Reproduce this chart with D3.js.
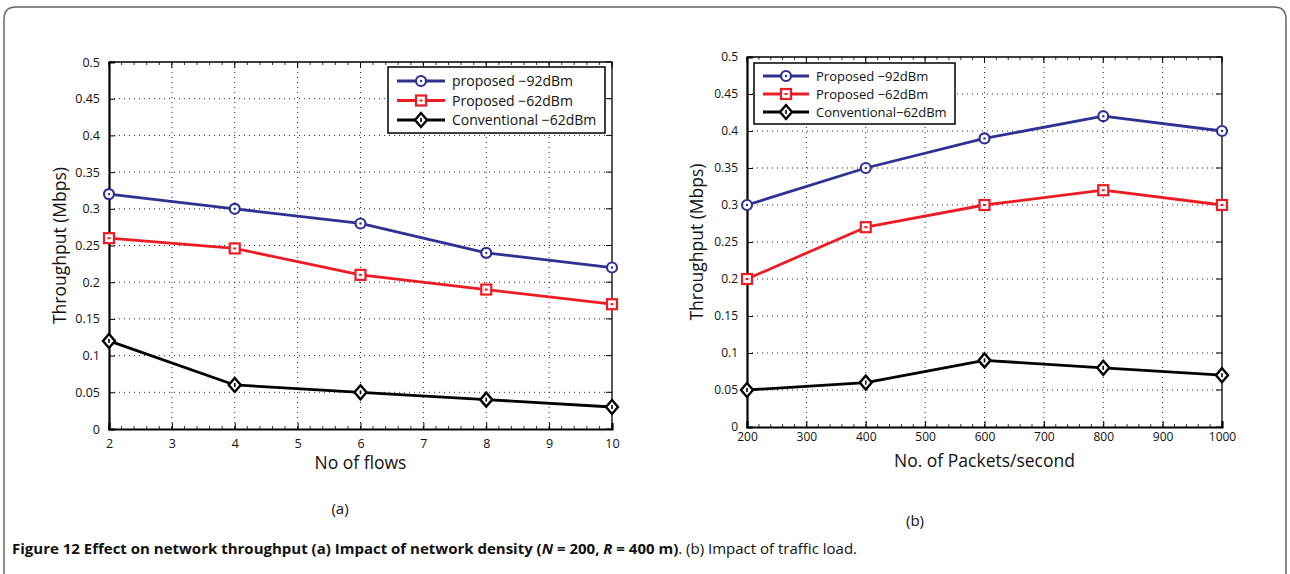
<!DOCTYPE html>
<html lang="en">
<head>
<meta charset="UTF-8">
<title>Figure 12 Throughput</title>
<script src="https://d3js.org/d3.v7.min.js"></script>
<style>
  body { margin: 0; background: #fff; font-family: "Open Sans", sans-serif; }
  svg text { fill: #111; }
</style>
</head>
<body>
<div id="chart"></div>
<script>
// data
const flows = [2, 4, 6, 8, 10];
const flowsBlue = [0.32, 0.30, 0.28, 0.24, 0.22];
const flowsRed = [0.26, 0.246, 0.21, 0.19, 0.17];
const flowsBlack = [0.12, 0.06, 0.05, 0.04, 0.03];

const packets = [200, 400, 600, 800, 1000];
const packetsBlue = [0.30, 0.35, 0.39, 0.42, 0.40];
const packetsRed = [0.20, 0.27, 0.30, 0.32, 0.30];
const packetsBlack = [0.05, 0.06, 0.09, 0.08, 0.07];

const yTicks = [0, 0.05, 0.1, 0.15, 0.2, 0.25, 0.3, 0.35, 0.4, 0.45, 0.5];
const flowTicks = [2, 3, 4, 5, 6, 7, 8, 9, 10];
const packetTicks = [200, 300, 400, 500, 600, 700, 800, 900, 1000];

const legendA = ["proposed \u221292dBm", "Proposed \u221262dBm", "Conventional \u221262dBm"];
const legendB = ["Proposed \u221292dBm", "Proposed \u221262dBm", "Conventional\u221262dBm"];

const colors = ["#2e3192", "#ed1c24", "#000000"];
const shapes = ["circle", "square", "diamond"];

const W = 1290, H = 574;
const svg = d3.select("#chart").append("svg").attr("width", W).attr("height", H);

// outer frame
svg.append("path")
  .attr("d", "M4,590 L4,19 Q4,7 16,7 L1274,7 Q1286,7 1286,19 L1286,590")
  .attr("fill", "none").attr("stroke", "#666").attr("stroke-width", 1.5);

function drawMarker(g, shape, color, x, y) {
  if (shape === "circle") {
    g.append("circle").attr("cx", x).attr("cy", y).attr("r", 5)
      .attr("fill", "#fff").attr("stroke", color).attr("stroke-width", 2.2);
    g.append("circle").attr("cx", x).attr("cy", y).attr("r", 1.2).attr("fill", color);
  } else if (shape === "square") {
    g.append("rect").attr("x", x - 5).attr("y", y - 5).attr("width", 10).attr("height", 10)
      .attr("fill", "#fff").attr("stroke", color).attr("stroke-width", 2.2);
    g.append("rect").attr("x", x - 1.5).attr("y", y - 1).attr("width", 3).attr("height", 2).attr("fill", color);
  } else {
    g.append("path").attr("d", `M${x},${y - 7} L${x + 6},${y} L${x},${y + 7} L${x - 6},${y} Z`)
      .attr("fill", "#fff").attr("stroke", color).attr("stroke-width", 2.4);
    g.append("rect").attr("x", x - 0.8).attr("y", y - 2).attr("width", 1.6).attr("height", 4).attr("fill", color);
  }
}

function panel(opt) {
  const x = d3.scaleLinear().domain(opt.xDomain).range([opt.left, opt.right]);
  const y = d3.scaleLinear().domain([0, 0.5]).range([opt.bottom, opt.top]);
  const g = svg.append("g");

  // dotted grid
  g.selectAll(".gx").data(opt.xTicks.slice(1, -1)).join("line")
    .attr("x1", d => x(d)).attr("x2", d => x(d)).attr("y1", opt.top).attr("y2", opt.bottom)
    .attr("stroke", "#222").attr("stroke-width", 1).attr("stroke-dasharray", "1,4");
  g.selectAll(".gy").data(yTicks.slice(1, -1)).join("line")
    .attr("x1", opt.left).attr("x2", opt.right).attr("y1", d => y(d)).attr("y2", d => y(d))
    .attr("stroke", "#222").attr("stroke-width", 1).attr("stroke-dasharray", "1,4");

  // minor ticks along bottom and top
  const minor = d3.range(opt.xDomain[0], opt.xDomain[1] + opt.minorStep / 2, opt.minorStep);
  g.selectAll(".mb").data(minor).join("line")
    .attr("x1", d => x(d)).attr("x2", d => x(d)).attr("y1", opt.bottom).attr("y2", opt.bottom - 3)
    .attr("stroke", "#000").attr("stroke-width", 0.8);
  g.selectAll(".mt").data(minor).join("line")
    .attr("x1", d => x(d)).attr("x2", d => x(d)).attr("y1", opt.top).attr("y2", opt.top + 3)
    .attr("stroke", "#000").attr("stroke-width", 0.8);
  // major ticks on top and right
  g.selectAll(".tt").data(opt.xTicks).join("line")
    .attr("x1", d => x(d)).attr("x2", d => x(d)).attr("y1", opt.top).attr("y2", opt.top + 6)
    .attr("stroke", "#000").attr("stroke-width", 1);
  g.selectAll(".tr").data(yTicks).join("line")
    .attr("x1", opt.right).attr("x2", opt.right - 6).attr("y1", d => y(d)).attr("y2", d => y(d))
    .attr("stroke", "#000").attr("stroke-width", 1);

  // thin box top/right
  g.append("path").attr("d", `M${opt.left},${opt.top} L${opt.right},${opt.top} L${opt.right},${opt.bottom}`)
    .attr("fill", "none").attr("stroke", "#000").attr("stroke-width", 1.3);

  // axes
  const xa = g.append("g").attr("transform", `translate(0,${opt.bottom})`)
    .call(d3.axisBottom(x).tickValues(opt.xTicks).tickSize(-6).tickPadding(opt.xPad).tickFormat(d3.format("d")));
  const ya = g.append("g").attr("transform", `translate(${opt.left},0)`)
    .call(d3.axisLeft(y).tickValues(yTicks).tickSize(-6).tickPadding(9).tickFormat(d => d === 0 ? "0" : String(d)));
  [xa, ya].forEach(a => {
    a.select(".domain").attr("stroke", "#000").attr("stroke-width", 2.2);
    a.selectAll(".tick line").attr("stroke", "#000");
    a.selectAll("text").attr("font-family", "Open Sans, sans-serif").attr("font-size", opt.tickFs).attr("fill", "#111");
  });

  // series
  opt.series.forEach((vals, i) => {
    const pts = opt.xs.map((v, j) => [x(v), y(vals[j])]);
    g.append("path").attr("d", d3.line()(pts)).attr("fill", "none")
      .attr("stroke", colors[i]).attr("stroke-width", 2.8).attr("stroke-linejoin", "round");
    pts.forEach(p => drawMarker(g, shapes[i], colors[i], p[0], p[1]));
  });

  // legend
  const L = opt.legend;
  g.append("rect").attr("x", L.x).attr("y", L.y).attr("width", L.w).attr("height", L.h)
    .attr("fill", "#fff").attr("stroke", "#000").attr("stroke-width", 1.5);
  opt.labels.forEach((t, i) => {
    const ly = L.y + L.first + i * L.step;
    g.append("line").attr("x1", L.x + 9).attr("x2", L.x + 9 + L.line).attr("y1", ly).attr("y2", ly)
      .attr("stroke", colors[i]).attr("stroke-width", 2.8);
    drawMarker(g, shapes[i], colors[i], L.x + 9 + L.line / 2, ly);
    g.append("text").attr("x", L.x + 16 + L.line).attr("y", ly).attr("dy", "0.36em")
      .attr("font-size", L.fs).text(t);
  });

  // axis titles
  g.append("text").attr("x", (opt.left + opt.right) / 2).attr("y", opt.xTitleY)
    .attr("text-anchor", "middle").attr("font-size", 17.5).text(opt.xTitle);
  g.append("text").attr("transform", `translate(${opt.yTitleX},${(opt.top + opt.bottom) / 2}) rotate(-90)`)
    .attr("text-anchor", "middle").attr("font-size", 17.5).text("Throughput (Mbps)");
  g.append("text").attr("x", opt.subX).attr("y", opt.subY).attr("text-anchor", "middle")
    .attr("font-size", 15).text(opt.sub);
}

panel({
  xDomain: [2, 10], xTicks: flowTicks, minorStep: 0.2, xs: flows,
  series: [flowsBlue, flowsRed, flowsBlack],
  left: 109, right: 612, top: 62, bottom: 429, xPad: 10, tickFs: 12.5,
  legend: { x: 388, y: 67, w: 217, h: 66, first: 14, step: 19.5, line: 48, fs: 14 },
  labels: legendA,
  xTitle: "No of flows", xTitleY: 469, yTitleX: 66,
  sub: "(a)", subX: 340, subY: 514
});

panel({
  xDomain: [200, 1000], xTicks: packetTicks, minorStep: 20, xs: packets,
  series: [packetsBlue, packetsRed, packetsBlack],
  left: 747, right: 1222, top: 57, bottom: 427, xPad: 5, tickFs: 12,
  legend: { x: 754, y: 63, w: 201, h: 61, first: 13, step: 18, line: 46, fs: 13 },
  labels: legendB,
  xTitle: "No. of Packets/second", xTitleY: 467, yTitleX: 703,
  sub: "(b)", subX: 915, subY: 526
});

// caption
const cap = svg.append("text").attr("x", 12).attr("y", 554).attr("font-size", 15);
cap.append("tspan").attr("font-weight", "bold").text("Figure 12 Effect on network throughput (a) Impact of network density (");
cap.append("tspan").attr("font-weight", "bold").attr("font-style", "italic").text("N");
cap.append("tspan").attr("font-weight", "bold").text(" = 200, ");
cap.append("tspan").attr("font-weight", "bold").attr("font-style", "italic").text("R");
cap.append("tspan").attr("font-weight", "bold").text(" = 400 m)");
cap.append("tspan").text(". (b) Impact of traffic load.");
</script>
</body>
</html>
